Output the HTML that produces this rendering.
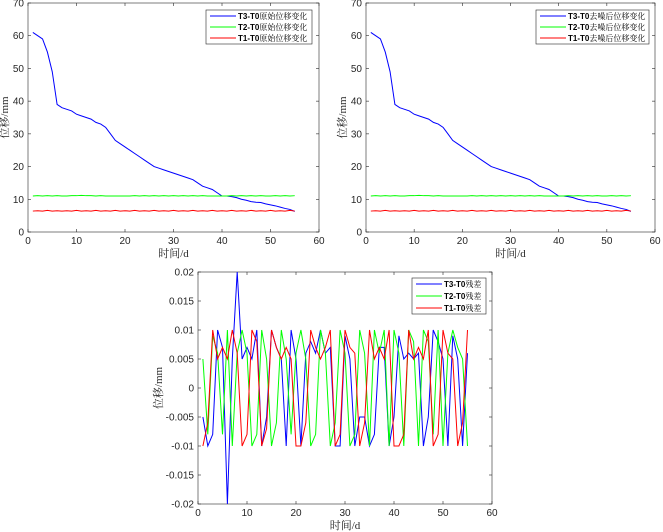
<!DOCTYPE html>
<html><head><meta charset="utf-8">
<style>
body{margin:0;background:#fff;}
svg{display:block;font-family:"Liberation Sans","Noto Sans CJK SC",sans-serif;}
.tk{font-size:10px;fill:#262626;}
.lab{font-size:11px;fill:#262626;font-family:"Liberation Serif","Noto Serif CJK SC",serif;}
.lg{font-size:8px;fill:#000;}
</style></head>
<body>
<svg id="s" width="663" height="532"></svg>
<script>
const days = Array.from({length:55},(_,i)=>i+1);
const t3Raw = [61,60,59,55,49,39,38,37.5,37,36,35.5,35,34.5,33.5,33,32,30,28,27,26,25,24,23,22,21,20,19.5,19,18.5,18,17.5,17,16.5,16,15,14,13.5,13,12,11,11,10.8,10.5,10,9.7,9.3,9.1,9,8.6,8.3,8,7.6,7.2,6.9,6.3];
const t2Raw = [11,11.1,11,11.1,11,11.1,11,11,11.1,11.1,11.2,11.1,11.1,11,11.1,11,11,11,11,11,11,11.1,11,11.1,11,11.1,11,11.1,11,11.1,11,11.1,11,11.1,11,11.1,11,11,11,11,11,11.1,11,11.1,11,11.1,11,11.1,11,11,11.1,11,11.1,11,11.1];
const t1Raw = [6.4,6.5,6.4,6.6,6.4,6.5,6.4,6.5,6.4,6.6,6.4,6.5,6.4,6.6,6.4,6.5,6.4,6.6,6.4,6.5,6.4,6.6,6.4,6.5,6.4,6.6,6.4,6.5,6.4,6.6,6.4,6.5,6.4,6.6,6.4,6.5,6.4,6.6,6.4,6.5,6.4,6.6,6.4,6.5,6.4,6.6,6.4,6.5,6.4,6.6,6.4,6.5,6.4,6.6,6.4];
const t3Res = [-0.005,-0.01,-0.008,0.01,0.007,-0.02,0.005,0.02,0.005,0.007,0.005,0.01,-0.01,-0.005,0.01,0.007,0.005,-0.01,0.01,0.005,-0.01,0.006,0.008,0.006,0.01,0.006,0.007,-0.01,-0.01,0.009,0.005,-0.01,-0.005,-0.005,-0.01,-0.008,0.007,0.007,-0.01,-0.005,0.009,0.005,0.006,0.005,0.006,-0.01,-0.005,0.01,0.008,0.005,-0.01,0.009,0.005,-0.01,0.006];
const t2Res = [0.005,-0.008,0.009,0.006,-0.008,0.01,-0.01,0.006,0.01,0.006,-0.01,-0.008,0.01,0.005,-0.01,-0.006,0.01,0.005,-0.008,0.006,0.01,0.005,-0.01,-0.008,0.01,0.006,-0.01,-0.006,0.01,0.006,-0.01,-0.008,0.01,0.006,-0.01,0.01,0.006,0.01,-0.01,0.01,0.006,-0.01,0.01,0.008,-0.01,0.01,0.008,-0.008,0.01,-0.01,0.006,0.01,0.007,0.005,-0.01];
const t1Res = [-0.01,-0.006,0.01,0.005,0.007,0.005,0.01,0.006,-0.01,-0.008,0.01,0.008,-0.01,-0.007,0.01,0.007,0.005,0.007,0.005,-0.01,-0.01,-0.006,0.01,0.007,0.005,0.007,0.01,-0.01,-0.008,0.01,0.007,0.006,-0.01,-0.006,0.01,0.005,0.007,0.005,0.01,-0.01,-0.01,-0.008,0.01,0.005,0.007,0.005,0.01,-0.01,-0.008,0.01,0.006,0.005,-0.01,-0.006,0.01];
const xTicks=[0,10,20,30,40,50,60];
const yTicksTop=[0,10,20,30,40,50,60,70];
const yTicksRes=[-0.02,-0.015,-0.01,-0.005,0,0.005,0.01,0.015,0.02];

const svg=document.getElementById('s');
const NS='http://www.w3.org/2000/svg';
function mk(tag,attrs,parent){const e=document.createElementNS(NS,tag);for(const k in attrs)e.setAttribute(k,attrs[k]);(parent||svg).appendChild(e);return e;}

function plot(o){
  const g=mk('g',{});
  
  
  const X=v=>o.x0+(v-0)/(60-0)*(o.x1-o.x0);
  const Y=v=>o.y1-(v-o.ymin)/(o.ymax-o.ymin)*(o.y1-o.y0);
  const bg=mk('rect',{x:o.x0,y:o.y0,width:o.x1-o.x0,height:o.y1-o.y0,fill:'#fff',stroke:'#262626','stroke-width':0.6},g);
  
  
  xTicks.forEach(t=>{
    const x=X(t);
    mk('line',{x1:x,x2:x,y1:o.y1,y2:o.y1-3,stroke:'#262626','stroke-width':0.6},g);
    mk('line',{x1:x,x2:x,y1:o.y0,y2:o.y0+3,stroke:'#262626','stroke-width':0.6},g);
    const tx=mk('text',{x:x,y:o.y1+12,'text-anchor':'middle',class:'tk'},g);tx.textContent=t;
    
    
  });
  o.yt.forEach(t=>{
    const y=Y(t);
    mk('line',{x1:o.x0,x2:o.x0+3,y1:y,y2:y,stroke:'#262626','stroke-width':0.6},g);
    mk('line',{x1:o.x1,x2:o.x1-3,y1:y,y2:y,stroke:'#262626','stroke-width':0.6},g);
    const tx=mk('text',{x:o.x0-4,y:y+3.5,'text-anchor':'end',class:'tk'},g);tx.textContent=o.fmt?o.fmt(t):t;
    
    
  });
  const xl=mk('text',{x:(o.x0+o.x1)/2,y:o.y1+25,'text-anchor':'middle',class:'lab'},g);xl.textContent='时间/d';
  
  
  const yx=o.x0-o.ylo, yy=(o.y0+o.y1)/2;
  const yl=mk('text',{x:yx,y:yy,'text-anchor':'middle',class:'lab',transform:`rotate(-90 ${yx} ${yy})`},g);yl.textContent='位移/mm';
  
  
  o.series.forEach(s=>{
    const p=mk('polyline',{points:days.map((d,i)=>X(d)+','+Y(s.v[i])).join(' '),fill:'none',stroke:s.c,'stroke-width':1},g);
    
    
  });
  const L=o.leg;
  const lb=mk('rect',{x:L.x,y:L.y,width:L.w,height:L.h,fill:'#fff',stroke:'#262626','stroke-width':0.6},g);
  
  
  o.series.forEach((s,i)=>{
    const y=L.y+6+i*(L.h-12)/2;
    mk('line',{x1:L.x+4,x2:L.x+30,y1:y,y2:y,stroke:s.c,'stroke-width':1},g);
    const t=mk('text',{x:L.x+32,y:y+3,class:'lg'},g);
    t.innerHTML='<tspan font-weight="bold">'+s.a+'</tspan><tspan font-family="Noto Serif CJK SC,serif">'+s.b+'</tspan>';
    
    
  });
}
plot({name:'raw-displacement-chart',x0:28,x1:319,y0:3,y1:232,ymin:0,ymax:70,yt:yTicksTop,ylo:20,
 leg:{x:206,y:10,w:106,h:34},
 series:[{n:'t3-raw-line',v:t3Raw,c:'#0000ff',a:'T3-T0',b:'原始位移变化'},{n:'t2-raw-line',v:t2Raw,c:'#00ff00',a:'T2-T0',b:'原始位移变化'},{n:'t1-raw-line',v:t1Raw,c:'#ff0000',a:'T1-T0',b:'原始位移变化'}]});
plot({name:'denoised-displacement-chart',x0:366,x1:655,y0:3,y1:232,ymin:0,ymax:70,yt:yTicksTop,ylo:20,
 leg:{x:536,y:10,w:113,h:34},
 series:[{n:'t3-denoised-line',v:t3Raw,c:'#0000ff',a:'T3-T0',b:'去噪后位移变化'},{n:'t2-denoised-line',v:t2Raw,c:'#00ff00',a:'T2-T0',b:'去噪后位移变化'},{n:'t1-denoised-line',v:t1Raw,c:'#ff0000',a:'T1-T0',b:'去噪后位移变化'}]});
plot({name:'residual-chart',x0:198,x1:492,y0:272,y1:504,ymin:-0.02,ymax:0.02,yt:yTicksRes,ylo:36,fmt:t=>String(+t.toFixed(3)),
 leg:{x:412,y:278,w:74,h:36},
 series:[{n:'t3-residual-line',v:t3Res,c:'#0000ff',a:'T3-T0',b:'残差'},{n:'t2-residual-line',v:t2Res,c:'#00ff00',a:'T2-T0',b:'残差'},{n:'t1-residual-line',v:t1Res,c:'#ff0000',a:'T1-T0',b:'残差'}]});
</script>
</body></html>
